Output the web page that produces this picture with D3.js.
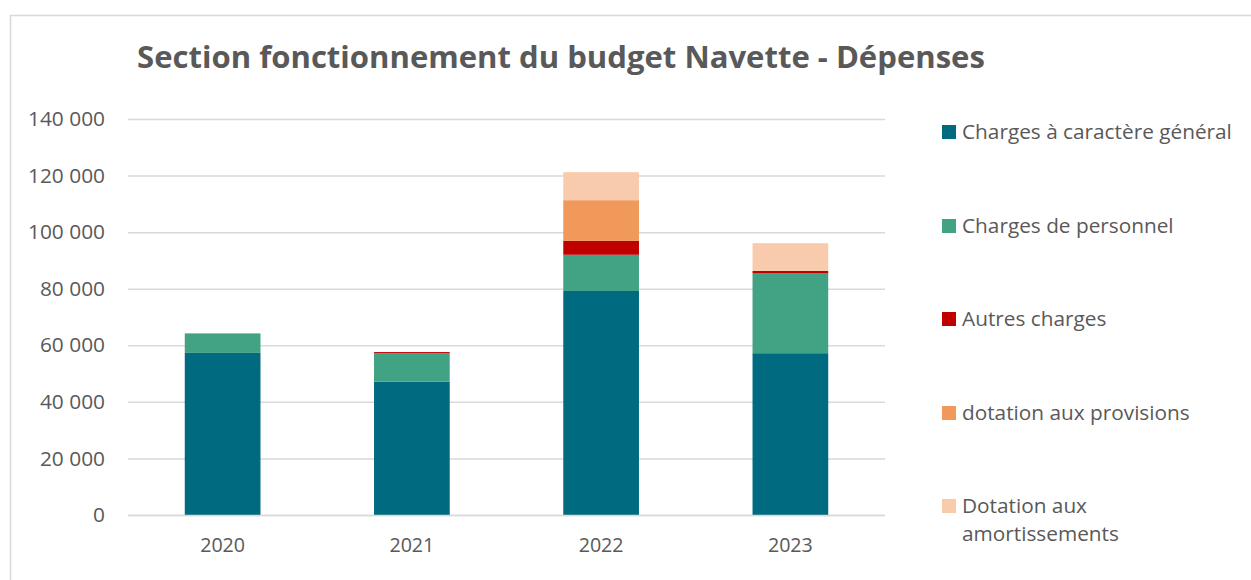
<!DOCTYPE html>
<html>
<head>
<meta charset="utf-8">
<script src="https://cdn.jsdelivr.net/npm/d3@7"></script>
<style>
  body { margin: 0; background: #fff; }
  svg { display: block; font-family: "Open Sans", sans-serif; }
</style>
</head>
<body>
<div id="chart"></div>
<script>
const years = ["2020", "2021", "2022", "2023"];
const seriesNames = [
    "Charges à caractère général",
    "Charges de personnel",
    "Autres charges",
    "dotation aux provisions",
    "Dotation aux amortissements"
];
const chargesGenerales = [57300, 47100, 79200, 57200];
const chargesPersonnel = [6900, 10100, 12800, 28200];
const autresCharges = [0, 400, 4900, 900];
const dotationProvisions = [0, 0, 14400, 0];
const dotationAmortissements = [0, 0, 9900, 9800];
const yTicks = [0, 20000, 40000, 60000, 80000, 100000, 120000, 140000];
const colors = ["#006b80", "#42a384", "#c00000", "#f0995b", "#f8cbad"];

const seriesValues = [chargesGenerales, chargesPersonnel, autresCharges, dotationProvisions, dotationAmortissements];

const W = 1251, H = 580;
const margin = {top: 119, right: 366, bottom: 65, left: 128};
const width = W - margin.left - margin.right;
const height = H - margin.top - margin.bottom;

const rows = years.map((y, i) => {
    const r = {year: y};
    seriesNames.forEach((s, k) => r[s] = seriesValues[k][i]);
    return r;
});

const svgRoot = d3.select("#chart")
    .append("svg")
    .attr("width", W)
    .attr("height", H);

// measure a string at a given size, to fit font sizes to the reference widths
const measure = (txt, size, weight) => {
    const t = svgRoot.append("text")
        .style("font-size", size + "px")
        .style("font-weight", weight || "normal")
        .text(txt);
    const w = t.node().getComputedTextLength();
    t.remove();
    return w;
};
const fitSize = (txt, target, weight) => 20 * target / measure(txt, 20, weight);

const titleSize = fitSize("Section fonctionnement du budget Navette - Dépenses", 848, "bold");
const yTickSize = fitSize("140 000", 77);
const xTickSize = fitSize("2020", 45);
const legendSize = fitSize("Charges à caractère général", 270);

// outer chart border
svgRoot.append("rect")
    .attr("x", 10.5).attr("y", 15.5)
    .attr("width", W + 20).attr("height", H + 20)
    .attr("fill", "none")
    .attr("stroke", "#d9d9d9")
    .attr("stroke-width", 1.5);

svgRoot.append("text")
    .attr("x", 561)
    .attr("y", 68)
    .attr("text-anchor", "middle")
    .style("font-weight", "bold")
    .style("font-size", titleSize + "px")
    .style("fill", "#595959")
    .text("Section fonctionnement du budget Navette - Dépenses");

const svg = svgRoot.append("g")
    .attr("transform", "translate(" + margin.left + "," + margin.top + ")");

const x = d3.scaleBand()
    .domain(years)
    .range([0, width])
    .paddingInner(0.6)
    .paddingOuter(0.3);

const y = d3.scaleLinear()
    .domain([0, 140000])
    .range([height, 0]);

const fr = d3.formatLocale({decimal: ",", thousands: "\u00a0", grouping: [3], currency: ["", " €"]});
const fmt = fr.format(",d");

const yAxis = d3.axisLeft(y)
    .tickValues(yTicks)
    .tickSize(-width)
    .tickPadding(23)
    .tickFormat(fmt);

const gy = svg.append("g").call(yAxis);
gy.select(".domain").remove();
gy.selectAll(".tick line").attr("stroke", "#d9d9d9").attr("stroke-width", 1.5);
gy.selectAll(".tick text")
    .style("font-size", yTickSize + "px")
    .style("fill", "#595959")
    .style("font-family", "'Open Sans', sans-serif");

const stack = d3.stack().keys(seriesNames);
const stacked = stack(rows);

svg.selectAll(".layer")
    .data(stacked)
    .enter()
    .append("g")
    .attr("class", "layer")
    .attr("fill", (d, i) => colors[i])
    .selectAll("rect")
    .data(d => d)
    .enter()
    .append("rect")
    .attr("x", d => x(d.data.year))
    .attr("width", x.bandwidth())
    .attr("y", d => y(d[1]))
    .attr("height", d => y(d[0]) - y(d[1]));

// baseline
svg.append("line")
    .attr("x1", 0).attr("x2", width)
    .attr("y1", height + 0.5).attr("y2", height + 0.5)
    .attr("stroke", "#d9d9d9")
    .attr("stroke-width", 1.5);

const xAxis = d3.axisBottom(x).tickSize(0).tickPadding(23);
const gx = svg.append("g")
    .attr("transform", "translate(0," + height + ")")
    .call(xAxis);
gx.select(".domain").remove();
gx.selectAll(".tick text")
    .style("font-size", xTickSize + "px")
    .style("fill", "#595959")
    .style("font-family", "'Open Sans', sans-serif");

// legend
const legend = svgRoot.append("g").attr("transform", "translate(942,0)");
const legendY = [132, 226, 319, 413, 506];
const legendLines = [
    ["Charges à caractère général"],
    ["Charges de personnel"],
    ["Autres charges"],
    ["dotation aux provisions"],
    ["Dotation aux", "amortissements"]
];
const items = legend.selectAll(".item")
    .data(seriesNames)
    .enter()
    .append("g")
    .attr("class", "item")
    .attr("transform", (d, i) => "translate(0," + legendY[i] + ")");

items.append("rect")
    .attr("x", 0).attr("y", -7)
    .attr("width", 14).attr("height", 14)
    .attr("fill", (d, i) => colors[i]);

items.each(function(d, i) {
    const t = d3.select(this).append("text")
        .attr("x", 20)
        .attr("y", 0)
        .style("font-size", legendSize + "px")
        .style("fill", "#595959");
    legendLines[i].forEach((line, j) => {
        t.append("tspan")
            .attr("x", 20)
            .attr("dy", j === 0 ? "0.35em" : "28px")
            .text(line);
    });
});
</script>
</body>
</html>
